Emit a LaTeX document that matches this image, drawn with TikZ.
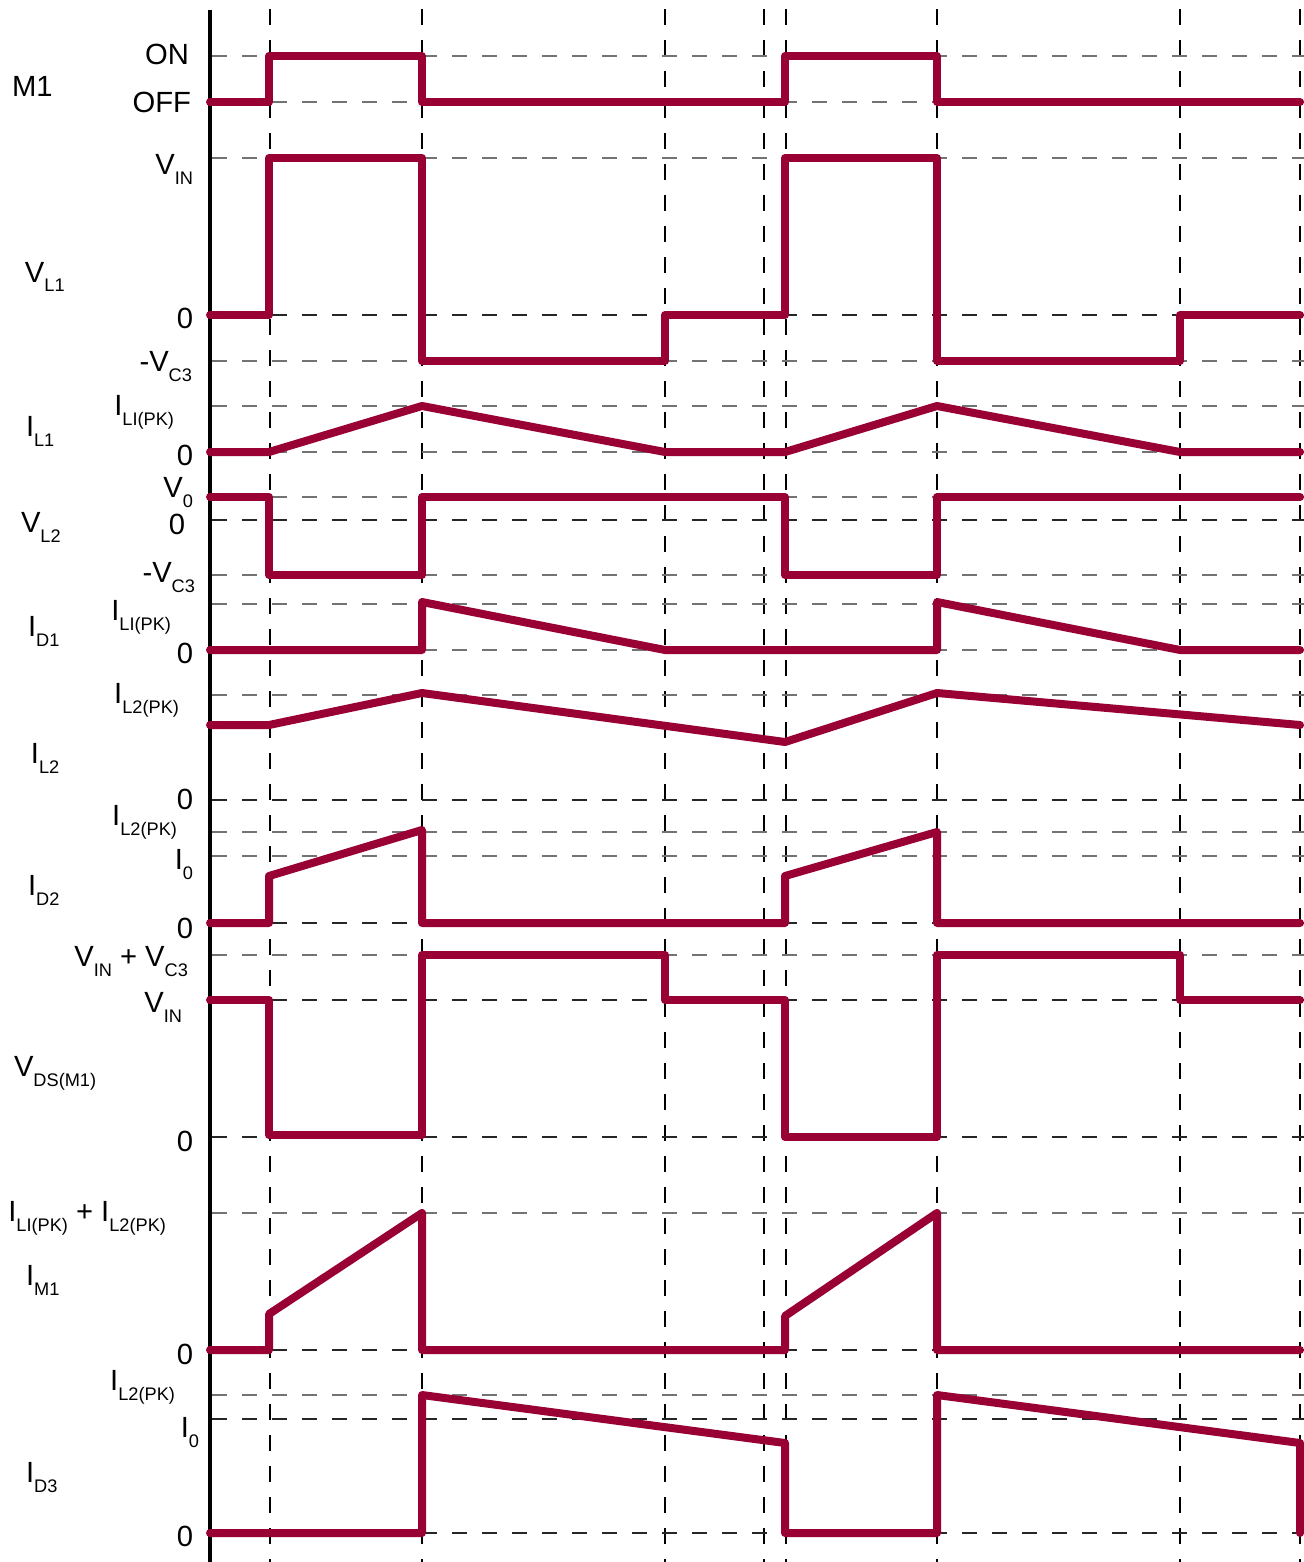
\documentclass[tikz,border=0pt]{standalone}
\usepackage{fontspec}
\setmainfont{Liberation Sans}
\definecolor{wavecol}{RGB}{153,0,51}
\newcommand\sbs[1]{\raisebox{-5pt}{\fontsize{9.1}{10}\selectfont #1}}
\begin{document}
\begin{tikzpicture}[x=0.5pt,y=-0.5pt,
  wave/.style={draw=wavecol,line width=4pt,line join=round,line cap=round},
  hgrid/.style={draw=black!55,line width=0.75pt,dash pattern=on 7.5pt off 7.5pt},
  hgridk/.style={draw=black!85,line width=0.7pt,dash pattern=on 7.5pt off 7.5pt},
  vgrid/.style={draw=black,line width=0.6pt,dash pattern=on 8pt off 7.5pt},
  lbl/.style={inner sep=0pt,outer sep=0pt,font=\fontsize{14.6}{16}\selectfont}]
\useasboundingbox (0,0) rectangle (1304,1562);
% vertical dashed grid
\foreach \x/\n in {270/a,422/b,665/c,764/d,786/e,937/f,1180/g,1300/h}
  \draw[vgrid] (\x,9) -- (\x,1562);
% horizontal dashed grid
\foreach \y in {56,102,158,361,406,452,497,575,604,650,695,832,856,955,1213,1395}
  \draw[hgrid] (212,\y) -- (1304,\y);
\foreach \y in {315,520,800,923,1000,1137,1350,1419,1533}
  \draw[hgridk] (212,\y) -- (1304,\y);
% axis
\draw[line width=2pt] (210,10) -- (210,1562);
% waveforms
\draw[wave] (210,102) -- (269,102) -- (269,56) -- (422,56) -- (422,102) -- (785,102) -- (785,56) -- (937,56) -- (937,102) -- (1300,102);
\draw[wave] (210,315) -- (269,315) -- (269,158) -- (422,158) -- (422,361) -- (665,361) -- (665,315) -- (785,315) -- (785,158) -- (937,158) -- (937,361) -- (1180,361) -- (1180,315) -- (1300,315);
\draw[wave] (210,452) -- (269,452) -- (422,406) -- (665,452) -- (785,452) -- (937,406) -- (1180,452) -- (1300,452);
\draw[wave] (210,497) -- (269,497) -- (269,575) -- (422,575) -- (422,497) -- (785,497) -- (785,575) -- (937,575) -- (937,497) -- (1300,497);
\draw[wave] (210,650) -- (422,650) -- (422,602) -- (665,650) -- (937,650) -- (937,602) -- (1180,650) -- (1300,650);
\draw[wave] (210,725) -- (269,725) -- (422,693) -- (785,742) -- (937,693) -- (1300,725);
\draw[wave] (210,923) -- (269,923) -- (269,876) -- (422,830) -- (422,923) -- (785,923) -- (785,876) -- (937,832) -- (937,923) -- (1300,923);
\draw[wave] (210,1000) -- (269,1000) -- (269,1135) -- (422,1135) -- (422,955) -- (665,955) -- (665,1000) -- (785,1000) -- (785,1137) -- (937,1137) -- (937,955) -- (1180,955) -- (1180,1000) -- (1300,1000);
\draw[wave] (210,1350) -- (269,1350) -- (269,1314) -- (422,1213) -- (422,1350) -- (785,1350) -- (785,1316) -- (937,1213) -- (937,1350) -- (1300,1350);
\draw[wave] (210,1533) -- (422,1533) -- (422,1395) -- (785,1443) -- (785,1533) -- (937,1533) -- (937,1395) -- (1300,1443) -- (1300,1533);
% signal names
\node[lbl,anchor=base west] (nM1) at (12,97) {M1};
\node[lbl,anchor=base west] (nVL1) at (25,282) {V\sbs{L1}};
\node[lbl,anchor=base west] (nIL1) at (26,436) {I\sbs{L1}};
\node[lbl,anchor=base west] (nVL2) at (21,532) {V\sbs{L2}};
\node[lbl,anchor=base west] (nID1) at (28,636) {I\sbs{D1}};
\node[lbl,anchor=base west] (nIL2) at (31,763) {I\sbs{L2}};
\node[lbl,anchor=base west] (nID2) at (28,895) {I\sbs{D2}};
\node[lbl,anchor=base west] (nVDS) at (14,1076) {V\sbs{DS(M1)}};
\node[lbl,anchor=base west] (nIM1) at (26,1285) {I\sbs{M1}};
\node[lbl,anchor=base west] (nID3) at (26,1482) {I\sbs{D3}};
% level labels
\node[lbl,anchor=base east] (lON) at (189,65) {ON};
\node[lbl,anchor=base east] (lOFF) at (191,113) {OFF};
\node[lbl,anchor=base east] (lVIN) at (193,175) {V\sbs{IN}};
\node[lbl,anchor=base east] (lz1) at (193,328) {0};
\node[lbl,anchor=base east] (lVC3a) at (192,371) {-V\sbs{C3}};
\node[lbl,anchor=base east] (lIL1pk) at (174,415) {I\sbs{LI(PK)}};
\node[lbl,anchor=base east] (lz2) at (193,465) {0};
\node[lbl,anchor=base east] (lV0) at (193,497) {V\sbs{0}};
\node[lbl,anchor=base east] (lz3) at (185,534) {0};
\node[lbl,anchor=base east] (lVC3b) at (195,582) {-V\sbs{C3}};
\node[lbl,anchor=base east] (lIL1pkb) at (171,620) {I\sbs{LI(PK)}};
\node[lbl,anchor=base east] (lz4) at (193,663) {0};
\node[lbl,anchor=base east] (lIL2pk) at (179,703) {I\sbs{L2(PK)}};
\node[lbl,anchor=base east] (lz5) at (193,809) {0};
\node[lbl,anchor=base east] (lIL2pkb) at (177,825) {I\sbs{L2(PK)}};
\node[lbl,anchor=base east] (lI0) at (193,869) {I\sbs{0}};
\node[lbl,anchor=base east] (lz6) at (193,938) {0};
\node[lbl,anchor=base east] (lVINVC3) at (188,966) {V\sbs{IN} + V\sbs{C3}};
\node[lbl,anchor=base east] (lVINb) at (182,1012) {V\sbs{IN}};
\node[lbl,anchor=base east] (lz7) at (193,1151) {0};
\node[lbl,anchor=base east] (lsum) at (166,1221) {I\sbs{LI(PK)} + I\sbs{L2(PK)}};
\node[lbl,anchor=base east] (lz8) at (193,1364) {0};
\node[lbl,anchor=base east] (lIL2pkc) at (175,1390) {I\sbs{L2(PK)}};
\node[lbl,anchor=base east] (lI0b) at (199,1437) {I\sbs{0}};
\node[lbl,anchor=base east] (lz9) at (193,1546) {0};
\end{tikzpicture}
\end{document}
